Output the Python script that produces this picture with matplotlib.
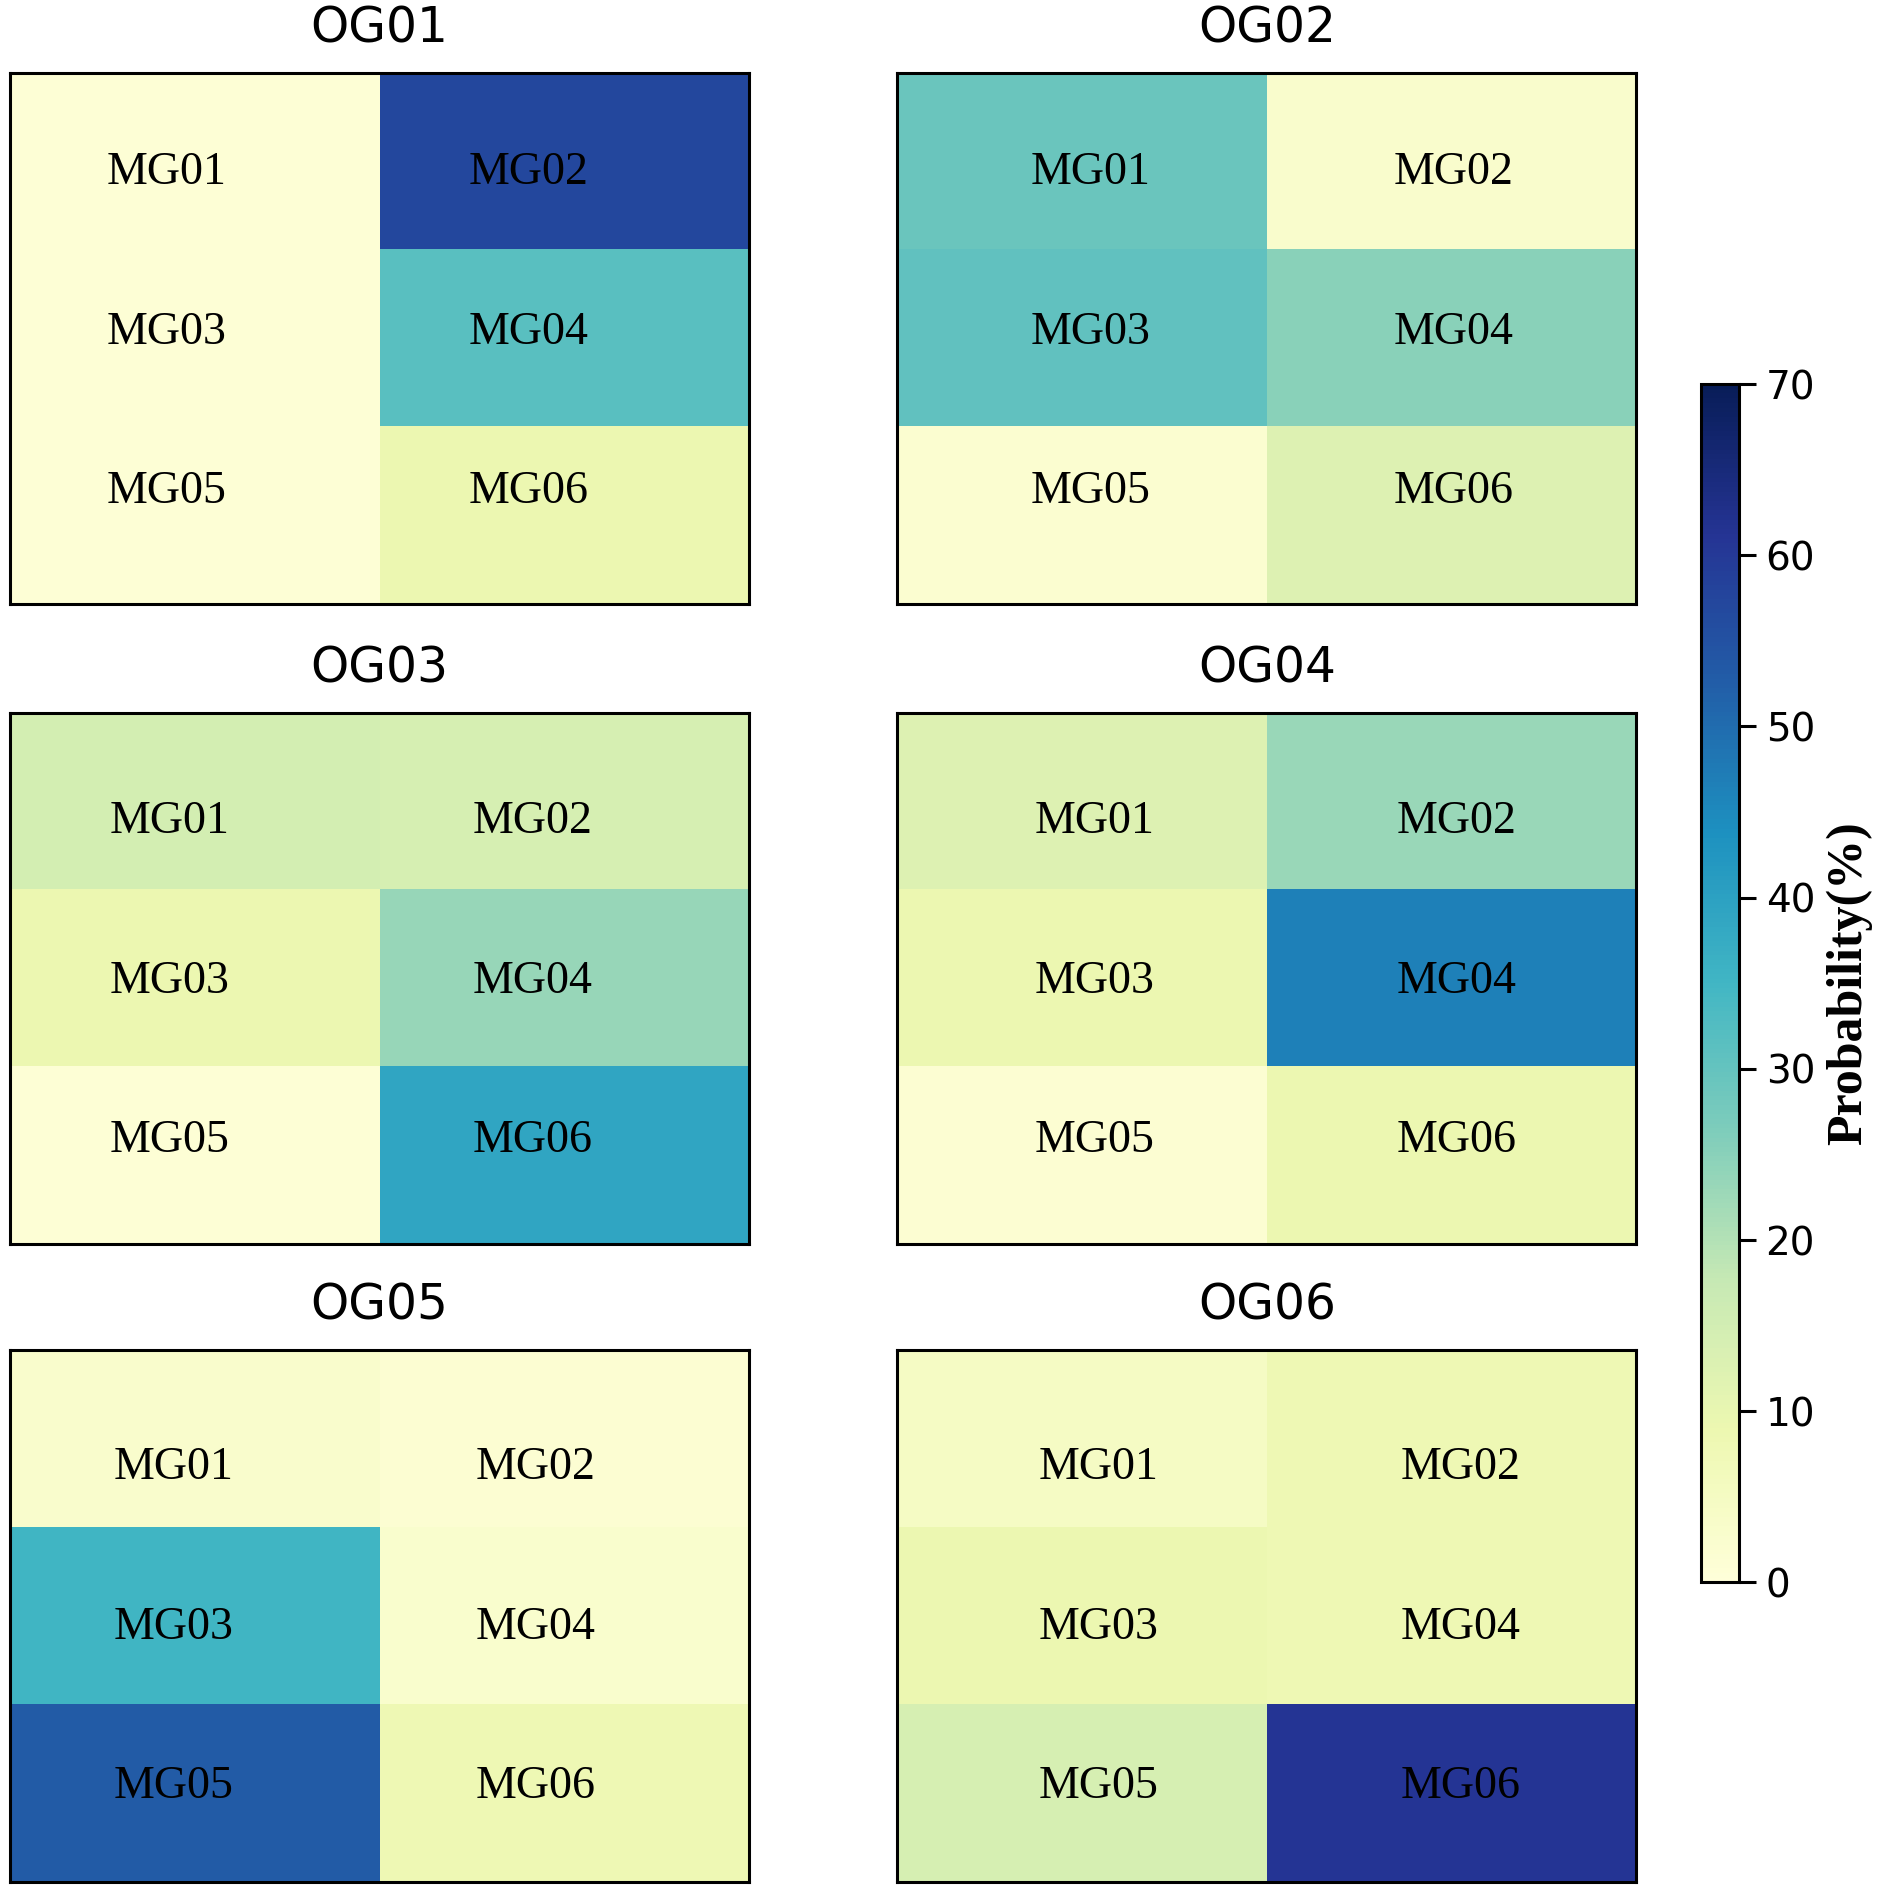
import matplotlib
matplotlib.use("Agg")
import matplotlib.pyplot as plt
import numpy as np

# probability (%) of each MG inside every OG panel, laid out as 3 rows x 2 cols
og_names = ["OG01", "OG02", "OG03", "OG04", "OG05", "OG06"]
mg_names = [["MG01", "MG02"], ["MG03", "MG04"], ["MG05", "MG06"]]

og01 = [[1.0, 57.0], [1.0, 31.5], [1.0, 9.0]]
og02 = [[29.0, 3.0], [30.5, 25.0], [2.0, 12.5]]
og03 = [[14.5, 14.0], [9.0, 23.5], [1.0, 39.0]]
og04 = [[12.5, 23.0], [9.0, 46.5], [1.5, 9.0]]
og05 = [[3.0, 1.5], [35.0, 2.5], [53.0, 8.0]]
og06 = [[4.5, 8.0], [9.0, 8.0], [14.0, 61.0]]
panels = [og01, og02, og03, og04, og05, og06]

vmin, vmax = 0, 70
cbar_ticks = [0, 10, 20, 30, 40, 50, 60, 70]

fig = plt.figure(figsize=(9.39, 9.47), dpi=200)

col_x = [0.0051, 0.4778]
row_y = [0.681, 0.343, 0.0064]
w, h = 0.3936, 0.2806

im = None
for k, (name, vals) in enumerate(zip(og_names, panels)):
    row, col = divmod(k, 2)
    ax = fig.add_axes([col_x[col], row_y[row], w, h])
    im = ax.imshow(np.array(vals), cmap="YlGnBu", vmin=vmin, vmax=vmax,
                   aspect="auto", interpolation="nearest")
    ax.set_xticks([])
    ax.set_yticks([])
    for s in ax.spines.values():
        s.set_linewidth(1.1)
    ax.set_title(name, fontsize=17.5, pad=11)
    for r in range(3):
        for c in range(2):
            tx = 0.212 + 0.005 * row + 0.49 * c + 0.05 * col
            ty = 0.811 - 0.3 * r - 0.016 * row
            ax.text(tx, ty, mg_names[r][c], transform=ax.transAxes,
                    ha="center", va="center", fontsize=16.5,
                    family="Liberation Serif", color="black")

cax = fig.add_axes([0.9055, 0.1645, 0.0206, 0.6327])
cb = fig.colorbar(im, cax=cax, ticks=cbar_ticks)
cb.outline.set_linewidth(1.1)
cb.ax.tick_params(labelsize=14, length=6, width=1.1)
cb.set_label("Probability(%)", family="Liberation Serif", fontweight="bold",
             fontsize=18, labelpad=4)

fig.savefig("out.png", dpi=200)
